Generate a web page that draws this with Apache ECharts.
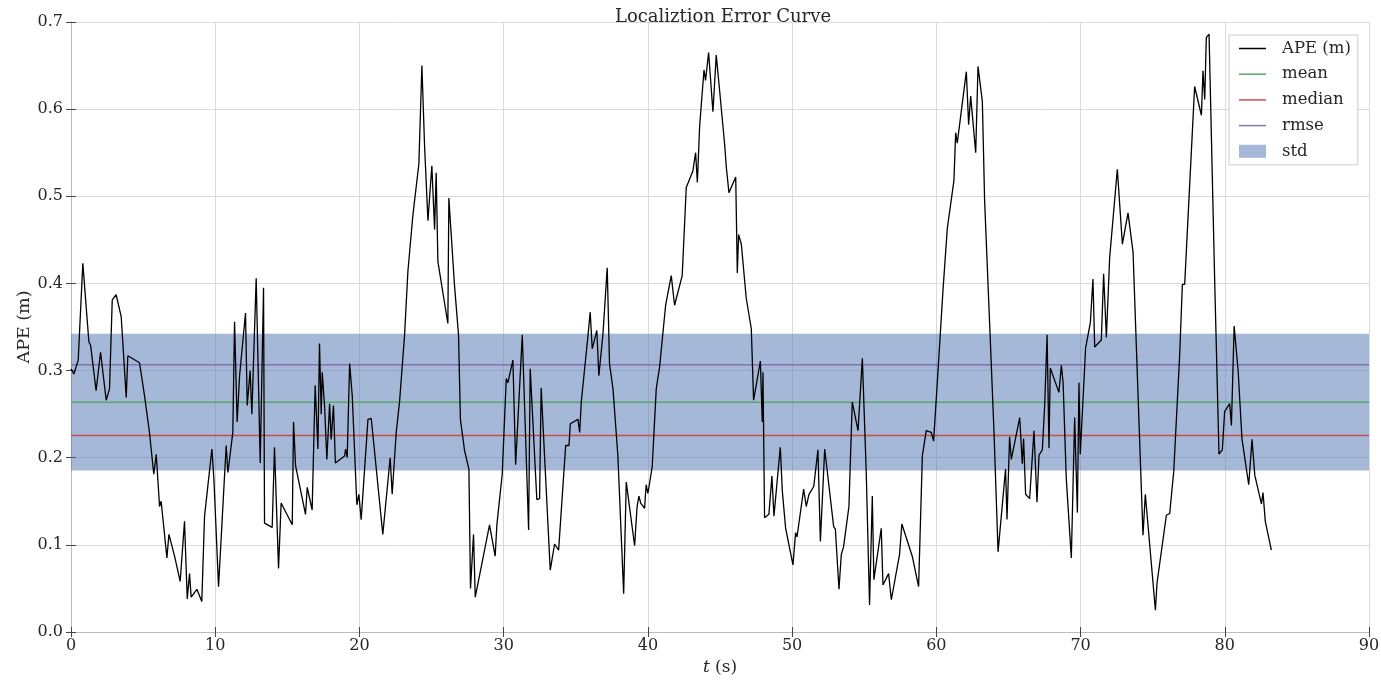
<!DOCTYPE html>
<html>
<head>
<meta charset="utf-8">
<script src="https://cdn.jsdelivr.net/npm/echarts@6/dist/echarts.min.js"></script>
<style>
  html, body { margin: 0; padding: 0; background: #fff; }
  #chart { width: 1381px; height: 681px; }
</style>
</head>
<body>
<div id="chart"></div>
<script>
// time stamps (s)
const tSec = [
  0.0, 0.2, 0.5, 0.82, 1.24, 1.36, 1.74, 2.05, 2.44, 2.67, 2.86, 3.13, 3.48, 3.83, 3.94, 4.75, 5.1, 5.44, 5.74, 5.91,
  6.14, 6.25, 6.65, 6.79, 7.18, 7.57, 7.87, 8.06, 8.22, 8.33, 8.73, 9.07, 9.26, 9.77, 9.91, 10.23, 10.76, 10.88, 11.22, 11.34,
  11.52, 11.69, 12.1, 12.22, 12.42, 12.54, 12.84, 13.12, 13.35, 13.42, 13.95, 14.11, 14.39, 14.57, 15.34, 15.43, 15.57, 16.26, 16.38, 16.72,
  16.93, 17.12, 17.23, 17.35, 17.42, 17.58, 17.74, 17.93, 18.04, 18.2, 18.33, 18.97, 19.04, 19.15, 19.32, 19.5, 19.82, 19.96, 20.12, 20.59,
  20.82, 21.62, 22.13, 22.27, 22.39, 22.55, 22.78, 23.13, 23.36, 23.71, 24.12, 24.33, 24.52, 24.75, 25.02, 25.21, 25.32, 25.44, 26.13, 26.2,
  26.59, 26.87, 27.0, 27.29, 27.59, 27.7, 27.91, 28.03, 29.02, 29.41, 29.53, 29.9, 30.18, 30.29, 30.64, 30.83, 31.29, 31.73, 31.84, 32.3,
  32.49, 32.6, 33.23, 33.53, 33.81, 34.3, 34.53, 34.62, 35.15, 35.27, 35.38, 35.84, 36.0, 36.14, 36.46, 36.6, 36.88, 37.18, 37.34, 37.58,
  37.92, 38.32, 38.5, 39.08, 39.25, 39.38, 39.5, 39.77, 39.88, 40.0, 40.16, 40.3, 40.58, 40.81, 40.92, 41.23, 41.62, 41.85, 42.38, 42.66,
  43.12, 43.31, 43.43, 43.59, 43.89, 44.0, 44.21, 44.51, 44.74, 44.97, 45.32, 45.44, 45.62, 46.09, 46.2, 46.29, 46.48, 46.82, 47.17, 47.33,
  47.8, 47.93, 47.98, 48.09, 48.39, 48.6, 48.74, 49.18, 49.32, 49.55, 50.06, 50.24, 50.34, 50.8, 50.98, 51.17, 51.5, 51.79, 51.96, 52.26,
  52.88, 53.0, 53.25, 53.41, 53.57, 53.94, 54.17, 54.57, 54.87, 55.14, 55.37, 55.56, 55.67, 56.18, 56.3, 56.69, 56.88, 57.45, 57.61, 58.33,
  58.77, 59.03, 59.3, 59.65, 59.81, 60.1, 60.46, 60.76, 61.22, 61.34, 61.45, 62.08, 62.24, 62.38, 62.73, 62.89, 63.19, 63.35, 63.7, 64.0,
  64.28, 64.8, 64.9, 65.08, 65.2, 65.78, 65.96, 66.05, 66.19, 66.47, 66.77, 66.98, 67.12, 67.35, 67.51, 67.68, 67.81, 67.9, 68.5, 68.67,
  68.79, 69.01, 69.36, 69.59, 69.78, 69.89, 69.98, 70.35, 70.68, 70.86, 70.98, 71.44, 71.6, 71.79, 72.02, 72.55, 72.9, 73.29, 73.64, 74.05,
  74.33, 74.49, 75.19, 75.3, 75.95, 76.18, 76.46, 76.87, 77.06, 77.22, 77.38, 77.91, 78.38, 78.49, 78.61, 78.72, 78.91, 79.3, 79.6, 79.83,
  79.99, 80.34, 80.46, 80.65, 80.93, 81.19, 81.66, 81.89, 82.08, 82.54, 82.65, 82.81, 83.23
]
// APE values (m)
const apeVal = [
  0.302, 0.296, 0.312, 0.423, 0.333, 0.329, 0.277, 0.321, 0.266, 0.279, 0.381, 0.387, 0.362, 0.269, 0.317, 0.309, 0.271, 0.229, 0.181, 0.204,
  0.144, 0.150, 0.085, 0.112, 0.087, 0.058, 0.127, 0.038, 0.067, 0.040, 0.049, 0.035, 0.133, 0.210, 0.175, 0.052, 0.214, 0.183, 0.229, 0.356,
  0.241, 0.294, 0.366, 0.260, 0.300, 0.250, 0.406, 0.194, 0.395, 0.125, 0.120, 0.212, 0.073, 0.148, 0.123, 0.241, 0.191, 0.135, 0.166, 0.140,
  0.283, 0.210, 0.331, 0.250, 0.298, 0.260, 0.198, 0.262, 0.221, 0.260, 0.194, 0.202, 0.210, 0.200, 0.308, 0.271, 0.146, 0.158, 0.129, 0.244,
  0.245, 0.112, 0.200, 0.158, 0.160, 0.229, 0.264, 0.341, 0.414, 0.479, 0.537, 0.650, 0.556, 0.472, 0.535, 0.462, 0.527, 0.425, 0.354, 0.498,
  0.398, 0.341, 0.244, 0.208, 0.187, 0.050, 0.112, 0.040, 0.123, 0.087, 0.123, 0.181, 0.291, 0.286, 0.312, 0.192, 0.341, 0.117, 0.302, 0.152,
  0.153, 0.280, 0.071, 0.101, 0.094, 0.214, 0.214, 0.239, 0.244, 0.229, 0.264, 0.339, 0.367, 0.325, 0.346, 0.294, 0.341, 0.418, 0.308, 0.279,
  0.202, 0.044, 0.172, 0.099, 0.144, 0.156, 0.148, 0.142, 0.169, 0.159, 0.175, 0.190, 0.279, 0.304, 0.304, 0.375, 0.409, 0.375, 0.409, 0.510,
  0.529, 0.550, 0.516, 0.581, 0.645, 0.633, 0.665, 0.597, 0.662, 0.622, 0.560, 0.533, 0.504, 0.522, 0.412, 0.456, 0.445, 0.383, 0.348, 0.266,
  0.311, 0.241, 0.298, 0.131, 0.135, 0.179, 0.133, 0.212, 0.162, 0.119, 0.077, 0.114, 0.109, 0.164, 0.144, 0.158, 0.167, 0.209, 0.104, 0.210,
  0.121, 0.118, 0.049, 0.089, 0.098, 0.144, 0.264, 0.231, 0.314, 0.183, 0.031, 0.156, 0.060, 0.119, 0.054, 0.067, 0.037, 0.089, 0.124, 0.087,
  0.052, 0.202, 0.231, 0.229, 0.219, 0.295, 0.392, 0.463, 0.518, 0.573, 0.561, 0.643, 0.582, 0.615, 0.550, 0.649, 0.609, 0.494, 0.352, 0.229,
  0.092, 0.187, 0.129, 0.224, 0.198, 0.246, 0.193, 0.222, 0.158, 0.153, 0.231, 0.149, 0.203, 0.209, 0.259, 0.341, 0.211, 0.303, 0.275, 0.306,
  0.286, 0.176, 0.085, 0.246, 0.137, 0.286, 0.204, 0.326, 0.355, 0.405, 0.327, 0.335, 0.411, 0.338, 0.430, 0.531, 0.445, 0.481, 0.436, 0.242,
  0.111, 0.158, 0.025, 0.056, 0.134, 0.136, 0.184, 0.317, 0.399, 0.399, 0.452, 0.626, 0.593, 0.644, 0.611, 0.682, 0.686, 0.403, 0.204, 0.209,
  0.253, 0.262, 0.237, 0.351, 0.299, 0.222, 0.169, 0.221, 0.180, 0.147, 0.160, 0.127, 0.094
]

// statistics
const meanVal = 0.2637
const medianVal = 0.2256
const rmseVal = 0.3068
const stdVal = 0.0785

const xTicks = { min: 0, max: 90, interval: 10 }
const yTicks = { min: 0, max: 0.7, interval: 0.1 }

const font = 'DejaVu Serif'
const ink = '#262626'
const apeData = tSec.map((t, i) => [t, apeVal[i]])
const hline = v => [[xTicks.min, v], [xTicks.max, v]]
const lineIcon = 'path://M0,0L27,0L27,1.5L0,1.5Z'

const chart = echarts.init(document.getElementById('chart'))

const tickStyle = { inside: true, length: 5, lineStyle: { color: '#444' } }
const spine = { show: true, lineStyle: { color: '#bcbcbc', width: 1 } }

let option = {
  backgroundColor: '#fff',
  animation: false,
  title: {
    text: 'Localiztion Error Curve',
    left: 610,
    top: 3,
    textStyle: { fontFamily: font, fontSize: 18, fontWeight: 'normal', color: ink }
  },
  legend: {
    orient: 'vertical',
    left: 1229,
    top: 35,
    padding: [5, 7, 5, 10],
    itemWidth: 27,
    itemHeight: 13,
    itemGap: 8.7,
    borderColor: '#cccccc',
    borderWidth: 1,
    backgroundColor: '#fff',
    textStyle: { fontFamily: font, fontSize: 16.5, color: ink, padding: [0, 0, 0, 11] },
    data: [
      { name: 'APE (m)', icon: lineIcon, itemStyle: { color: '#000' } },
      { name: 'mean', icon: lineIcon, itemStyle: { color: '#55a868' } },
      { name: 'median', icon: lineIcon, itemStyle: { color: '#c44e52' } },
      { name: 'rmse', icon: lineIcon, itemStyle: { color: '#8172b2' } },
      { name: 'std', icon: 'rect', itemStyle: { color: '#a5b8d7' } }
    ]
  },
  grid: { left: 71, right: 12, top: 22, bottom: 49, outerBoundsMode: 'none' },
  xAxis: [
    {
      type: 'value',
      min: xTicks.min, max: xTicks.max, interval: xTicks.interval,
      name: '{i|t} (s)',
      nameLocation: 'middle',
      nameGap: 26,
      nameTextStyle: {
        fontFamily: font, fontSize: 17, color: ink,
        rich: { i: { fontFamily: font, fontSize: 17, fontStyle: 'italic', color: ink } }
      },
      axisLine: spine,
      axisTick: tickStyle,
      axisLabel: { fontFamily: font, fontSize: 16, color: ink, margin: 6 },
      splitLine: { show: true, lineStyle: { color: '#dadada', width: 1 } }
    },
    {
      type: 'value', position: 'top',
      min: xTicks.min, max: xTicks.max, interval: xTicks.interval,
      axisLine: spine,
      axisTick: tickStyle,
      axisLabel: { show: false },
      splitLine: { show: false }
    }
  ],
  yAxis: [
    {
      type: 'value',
      min: yTicks.min, max: yTicks.max, interval: yTicks.interval,
      name: 'APE (m)',
      nameLocation: 'middle',
      nameGap: 38,
      nameMoveOverlap: false,
      nameTextStyle: { fontFamily: font, fontSize: 17.5, color: ink },
      axisLine: spine,
      axisTick: tickStyle,
      axisLabel: { fontFamily: font, fontSize: 16, color: ink, margin: 8, formatter: v => v.toFixed(1) },
      splitLine: { show: true, lineStyle: { color: '#dadada', width: 1 } }
    },
    {
      type: 'value', position: 'right',
      min: yTicks.min, max: yTicks.max, interval: yTicks.interval,
      axisLine: spine,
      axisTick: tickStyle,
      axisLabel: { show: false },
      splitLine: { show: false }
    }
  ],
  series: [
    {
      name: 'std',
      type: 'line',
      z: 1,
      symbol: 'none',
      data: hline(meanVal),
      itemStyle: { color: '#a5b8d7' },
      lineStyle: { opacity: 0 },
      markArea: {
        silent: true,
        itemStyle: { color: 'rgba(76,114,176,0.5)' },
        data: [[{ yAxis: meanVal - stdVal }, { yAxis: meanVal + stdVal }]]
      }
    },
    {
      name: 'mean', type: 'line', z: 2, symbol: 'none', silent: true,
      data: hline(meanVal),
      itemStyle: { color: '#55a868' },
      lineStyle: { color: '#55a868', width: 1.5 }
    },
    {
      name: 'median', type: 'line', z: 2, symbol: 'none', silent: true,
      data: hline(medianVal),
      itemStyle: { color: '#c44e52' },
      lineStyle: { color: '#c44e52', width: 1.5 }
    },
    {
      name: 'rmse', type: 'line', z: 2, symbol: 'none', silent: true,
      data: hline(rmseVal),
      itemStyle: { color: '#8172b2' },
      lineStyle: { color: '#8172b2', width: 1.5 }
    },
    {
      name: 'APE (m)', type: 'line', z: 3, symbol: 'none',
      data: apeData,
      itemStyle: { color: '#000' },
      lineStyle: { color: '#000', width: 1.3 }
    }
  ]
}
chart.setOption(option)
</script>
</body>
</html>
